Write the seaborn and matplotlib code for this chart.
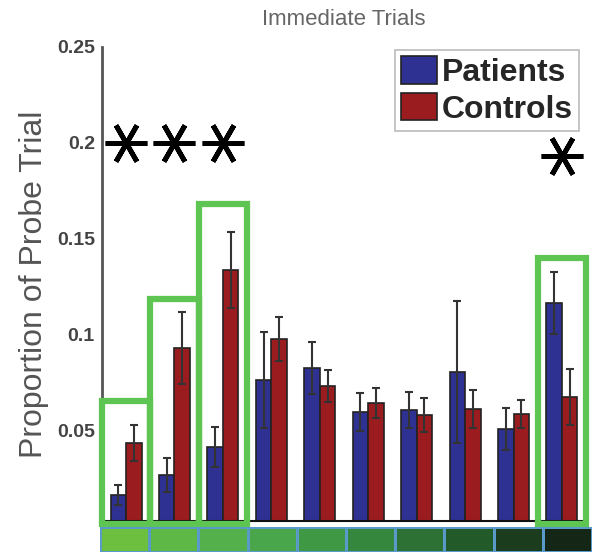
import numpy as np
import pandas as pd
import seaborn as sns
import matplotlib.pyplot as plt
from matplotlib.patches import Rectangle
from matplotlib.colors import ListedColormap

# proportion of probe trial spent in each of 10 zones (mean +- sem)
zones = [str(i) for i in range(1, 11)]
patients_mean = [0.0162, 0.0266, 0.0413, 0.0762, 0.0825, 0.0595, 0.0606, 0.0804, 0.0507, 0.1164]
patients_sem = [0.0052, 0.0089, 0.0104, 0.0251, 0.0136, 0.0100, 0.0094, 0.0371, 0.0109, 0.0162]
controls_mean = [0.0433, 0.0930, 0.1337, 0.0977, 0.0731, 0.0642, 0.0580, 0.0611, 0.0585, 0.0674]
controls_sem = [0.0094, 0.0187, 0.0198, 0.0114, 0.0084, 0.0079, 0.0088, 0.0099, 0.0073, 0.0146]

# significant zones: highlight box tops and asterisk heights
sig_zones = [0, 1, 2, 9]
box_tops = [0.065, 0.1185, 0.168, 0.140]
star_heights = [0.2, 0.2, 0.2, 0.193]

zone_colors = ["#6cbf3f", "#5db845", "#53b04a", "#4aa64a", "#3f9844",
               "#36873e", "#2d7134", "#235a29", "#1b3d1d", "#142616"]

df = pd.DataFrame({
    "zone": zones * 2,
    "group": ["Patients"] * 10 + ["Controls"] * 10,
    "mean": patients_mean + controls_mean,
    "sem": patients_sem + controls_sem,
})

sns.set_style("white")
plt.rcParams['font.family'] = ['Liberation Sans', 'DejaVu Sans']

fig = plt.figure(figsize=(5.98, 5.52), dpi=100)
ax = fig.add_axes([101.8 / 598, 31 / 552, 484.4 / 598, 474 / 552])

groups = ["Patients", "Controls"]
sns.barplot(data=df, x="zone", y="mean", hue="group", hue_order=groups,
            palette={"Patients": "#2e3192", "Controls": "#9b1c1f"},
            errorbar=None, width=0.64, saturation=1,
            edgecolor="#222222", linewidth=1.2, ax=ax)

# error bars from the stored sems
for cont, g in zip(ax.containers, groups):
    sub = df[df.group == g]
    xs = [b.get_x() + b.get_width() / 2 for b in cont]
    ax.errorbar(xs, sub["mean"], yerr=sub["sem"], fmt="none", ecolor="#333333",
                elinewidth=1.5, capsize=3, capthick=1.5, zorder=3)

# green boxes round the significant zones
for z, top in zip(sig_zones, box_tops):
    ax.add_patch(Rectangle((z - 0.5, 0.001), 1, top - 0.001, fill=False,
                           ec="#5ec452", lw=4.5, clip_on=False, zorder=4))

ax.plot(sig_zones, star_heights, ls="none", marker=(6, 2, 90), ms=30, mew=3.5,
        color="black", clip_on=False, zorder=5)

ax.set_xlim(-0.5, 9.5)
ax.set_ylim(0.0026, 0.25)
ax.set_xticks([])
ax.set_xlabel("")
ax.set_yticks([0.05, 0.1, 0.15, 0.2, 0.25])
ax.set_yticklabels(["0.05", "0.1", "0.15", "0.2", "0.25"], fontsize=14,
                   fontweight="bold", color="#444444")
ax.tick_params(axis="y", direction="in", length=4, width=1.5, color="#555555", pad=5)
ax.set_ylabel("Proportion of Probe Trial", fontsize=23, color="#555555", labelpad=6)
ax.set_title("Immediate Trials", fontsize=16, color="#666666", pad=16)

sns.despine(ax=ax)
ax.spines["left"].set_color("#555555")
ax.spines["left"].set_linewidth(2)
ax.spines["bottom"].set_color("#111111")
ax.spines["bottom"].set_linewidth(1.5)

handles, labels = ax.get_legend_handles_labels()
leg = ax.legend(handles, labels, loc="upper right", bbox_to_anchor=(0.985, 0.994),
                borderaxespad=0, prop=dict(weight="bold", size=23),
                handlelength=1.1, handleheight=0.95, handletextpad=0.15,
                labelspacing=0.15, borderpad=0.2, fancybox=False,
                edgecolor="#bbbbbb", framealpha=1)
leg.get_frame().set_linewidth(1.2)

# colour strip of zones under the axis
sax = fig.add_axes([100 / 598, 0, 492 / 598, 25 / 552])
sns.heatmap(np.arange(10)[None, :], cmap=ListedColormap(zone_colors), cbar=False,
            linewidths=1, linecolor="#5a9ac8", xticklabels=False, yticklabels=False,
            ax=sax)

fig.savefig("out.png", dpi=100)
